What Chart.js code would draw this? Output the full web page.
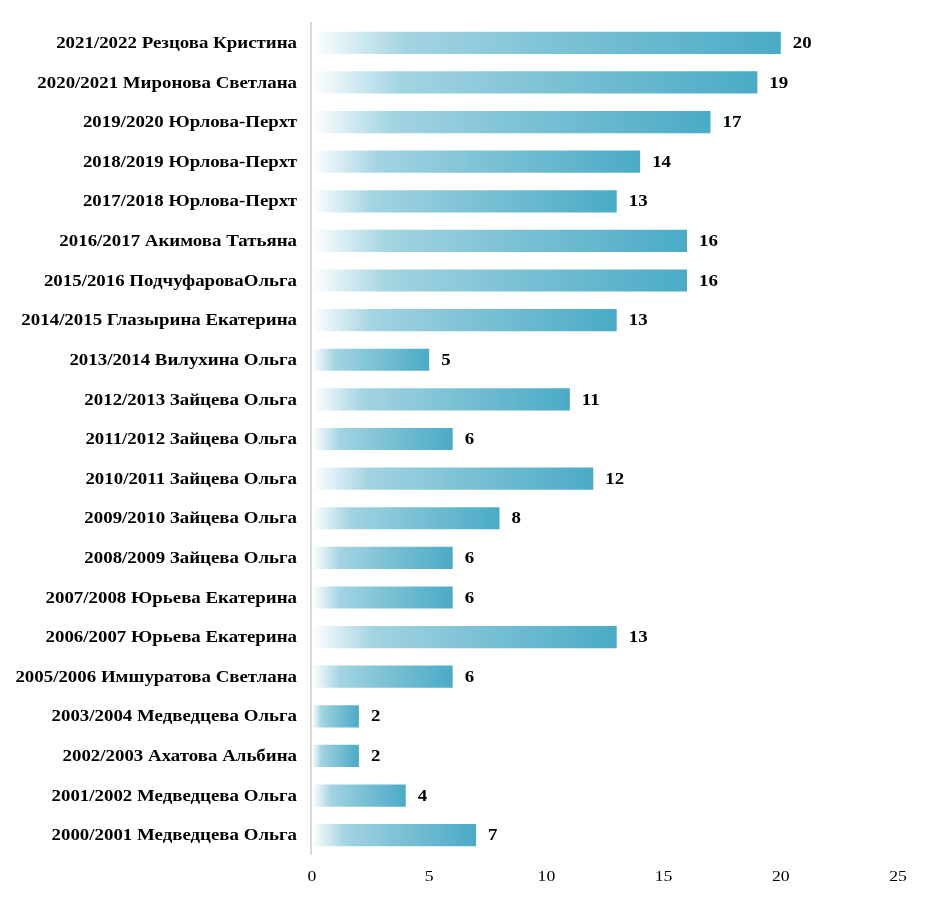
<!DOCTYPE html>
<html><head><meta charset="utf-8">
<script src="https://cdn.jsdelivr.net/npm/chart.js@4.4.0/dist/chart.umd.min.js"></script>
<style>html,body{margin:0;padding:0;background:#fff;}#wrap{width:932px;height:900px;}</style>
</head><body><div id="wrap"><canvas id="c" width="932" height="900"></canvas></div>
<script>
const categories = [
  "2021/2022 Резцова Кристина",
  "2020/2021 Миронова Светлана",
  "2019/2020 Юрлова-Перхт",
  "2018/2019 Юрлова-Перхт",
  "2017/2018 Юрлова-Перхт",
  "2016/2017 Акимова Татьяна",
  "2015/2016 ПодчуфароваОльга",
  "2014/2015 Глазырина Екатерина",
  "2013/2014 Вилухина Ольга",
  "2012/2013 Зайцева Ольга",
  "2011/2012 Зайцева Ольга",
  "2010/2011 Зайцева Ольга",
  "2009/2010 Зайцева Ольга",
  "2008/2009 Зайцева Ольга",
  "2007/2008 Юрьева Екатерина",
  "2006/2007 Юрьева Екатерина",
  "2005/2006 Имшуратова Светлана",
  "2003/2004 Медведцева Ольга",
  "2002/2003 Ахатова Альбина",
  "2001/2002 Медведцева Ольга",
  "2000/2001 Медведцева Ольга"
];
const values = [20, 19, 17, 14, 13, 16, 16, 13, 5, 11, 6, 12, 8, 6, 6, 13, 6, 2, 2, 4, 7];
const xTicks = [0, 5, 10, 15, 20, 25];

const FONT = "'Liberation Serif', 'Times New Roman', serif";
const STRETCH = 1.18;

function stretchedText(ctx, text, x, y, align) {
  const w = ctx.measureText(text).width * STRETCH;
  let left = x;
  if (align === 'right') left = x - w;
  else if (align === 'center') left = x - w / 2;
  ctx.save();
  ctx.translate(left, y);
  ctx.scale(STRETCH, 1);
  ctx.textAlign = 'left';
  ctx.fillText(text, 0, 0);
  ctx.restore();
}

const textPlugin = {
  id: 'textPlugin',
  afterDatasetsDraw(chart) {
    const ctx = chart.ctx;
    const meta = chart.getDatasetMeta(0);
    const xs = chart.scales.x;
    const ys = chart.scales.y;
    const x0 = xs.getPixelForValue(0);
    ctx.save();
    // axis line (drawn beside the bars)
    ctx.strokeStyle = '#d9d9d9';
    ctx.lineWidth = 2;
    ctx.beginPath();
    ctx.moveTo(x0 - 1, ys.top - 1);
    ctx.lineTo(x0 - 1, ys.bottom);
    ctx.stroke();

    ctx.fillStyle = '#000';
    ctx.textBaseline = 'middle';
    // value labels
    ctx.font = "bold 16px " + FONT;
    meta.data.forEach((bar, i) => {
      stretchedText(ctx, String(values[i]), bar.x + 12, bar.y + 1, 'left');
    });
    // category labels
    categories.forEach((lab, i) => {
      const y = ys.getPixelForValue(i);
      stretchedText(ctx, lab, x0 - 15, y + 1, 'right');
    });
    // x tick labels
    ctx.font = "15px " + FONT;
    xTicks.forEach(v => {
      stretchedText(ctx, String(v), xs.getPixelForValue(v), 877, 'center');
    });
    ctx.restore();
  }
};

new Chart(document.getElementById('c'), {
  type: 'bar',
  data: {
    labels: categories,
    datasets: [{
      data: values,
      backgroundColor(c) {
        const chart = c.chart;
        if (!chart.chartArea) return '#4bacc6';
        const xs = chart.scales.x;
        const x0 = xs.getPixelForValue(0);
        const x1 = xs.getPixelForValue(c.raw);
        const g = chart.ctx.createLinearGradient(x0, 0, x1, 0);
        g.addColorStop(0, '#ffffff');
        g.addColorStop(0.2, '#a3d4e2');
        g.addColorStop(0.5, '#80c3d6');
        g.addColorStop(1, '#4aabc6');
        return g;
      },
      borderWidth: 0,
      barPercentage: 0.56,
      categoryPercentage: 1
    }]
  },
  options: {
    indexAxis: 'y',
    responsive: false,
    animation: false,
    layout: { padding: { left: 0, right: 34, top: 23, bottom: 0 } },
    plugins: { legend: { display: false }, tooltip: { enabled: false } },
    scales: {
      x: {
        min: 0, max: 25,
        afterBuildTicks(s) { s.ticks = xTicks.map(v => ({ value: v })); },
        afterFit(s) { s.height = 45; },
        grid: { display: false, drawTicks: false },
        border: { display: false },
        ticks: { display: false }
      },
      y: {
        afterFit(s) { s.width = 312; },
        grid: { display: false, drawTicks: false },
        border: { display: false },
        ticks: { display: false, autoSkip: false }
      }
    }
  },
  plugins: [textPlugin]
});
</script></body></html>
